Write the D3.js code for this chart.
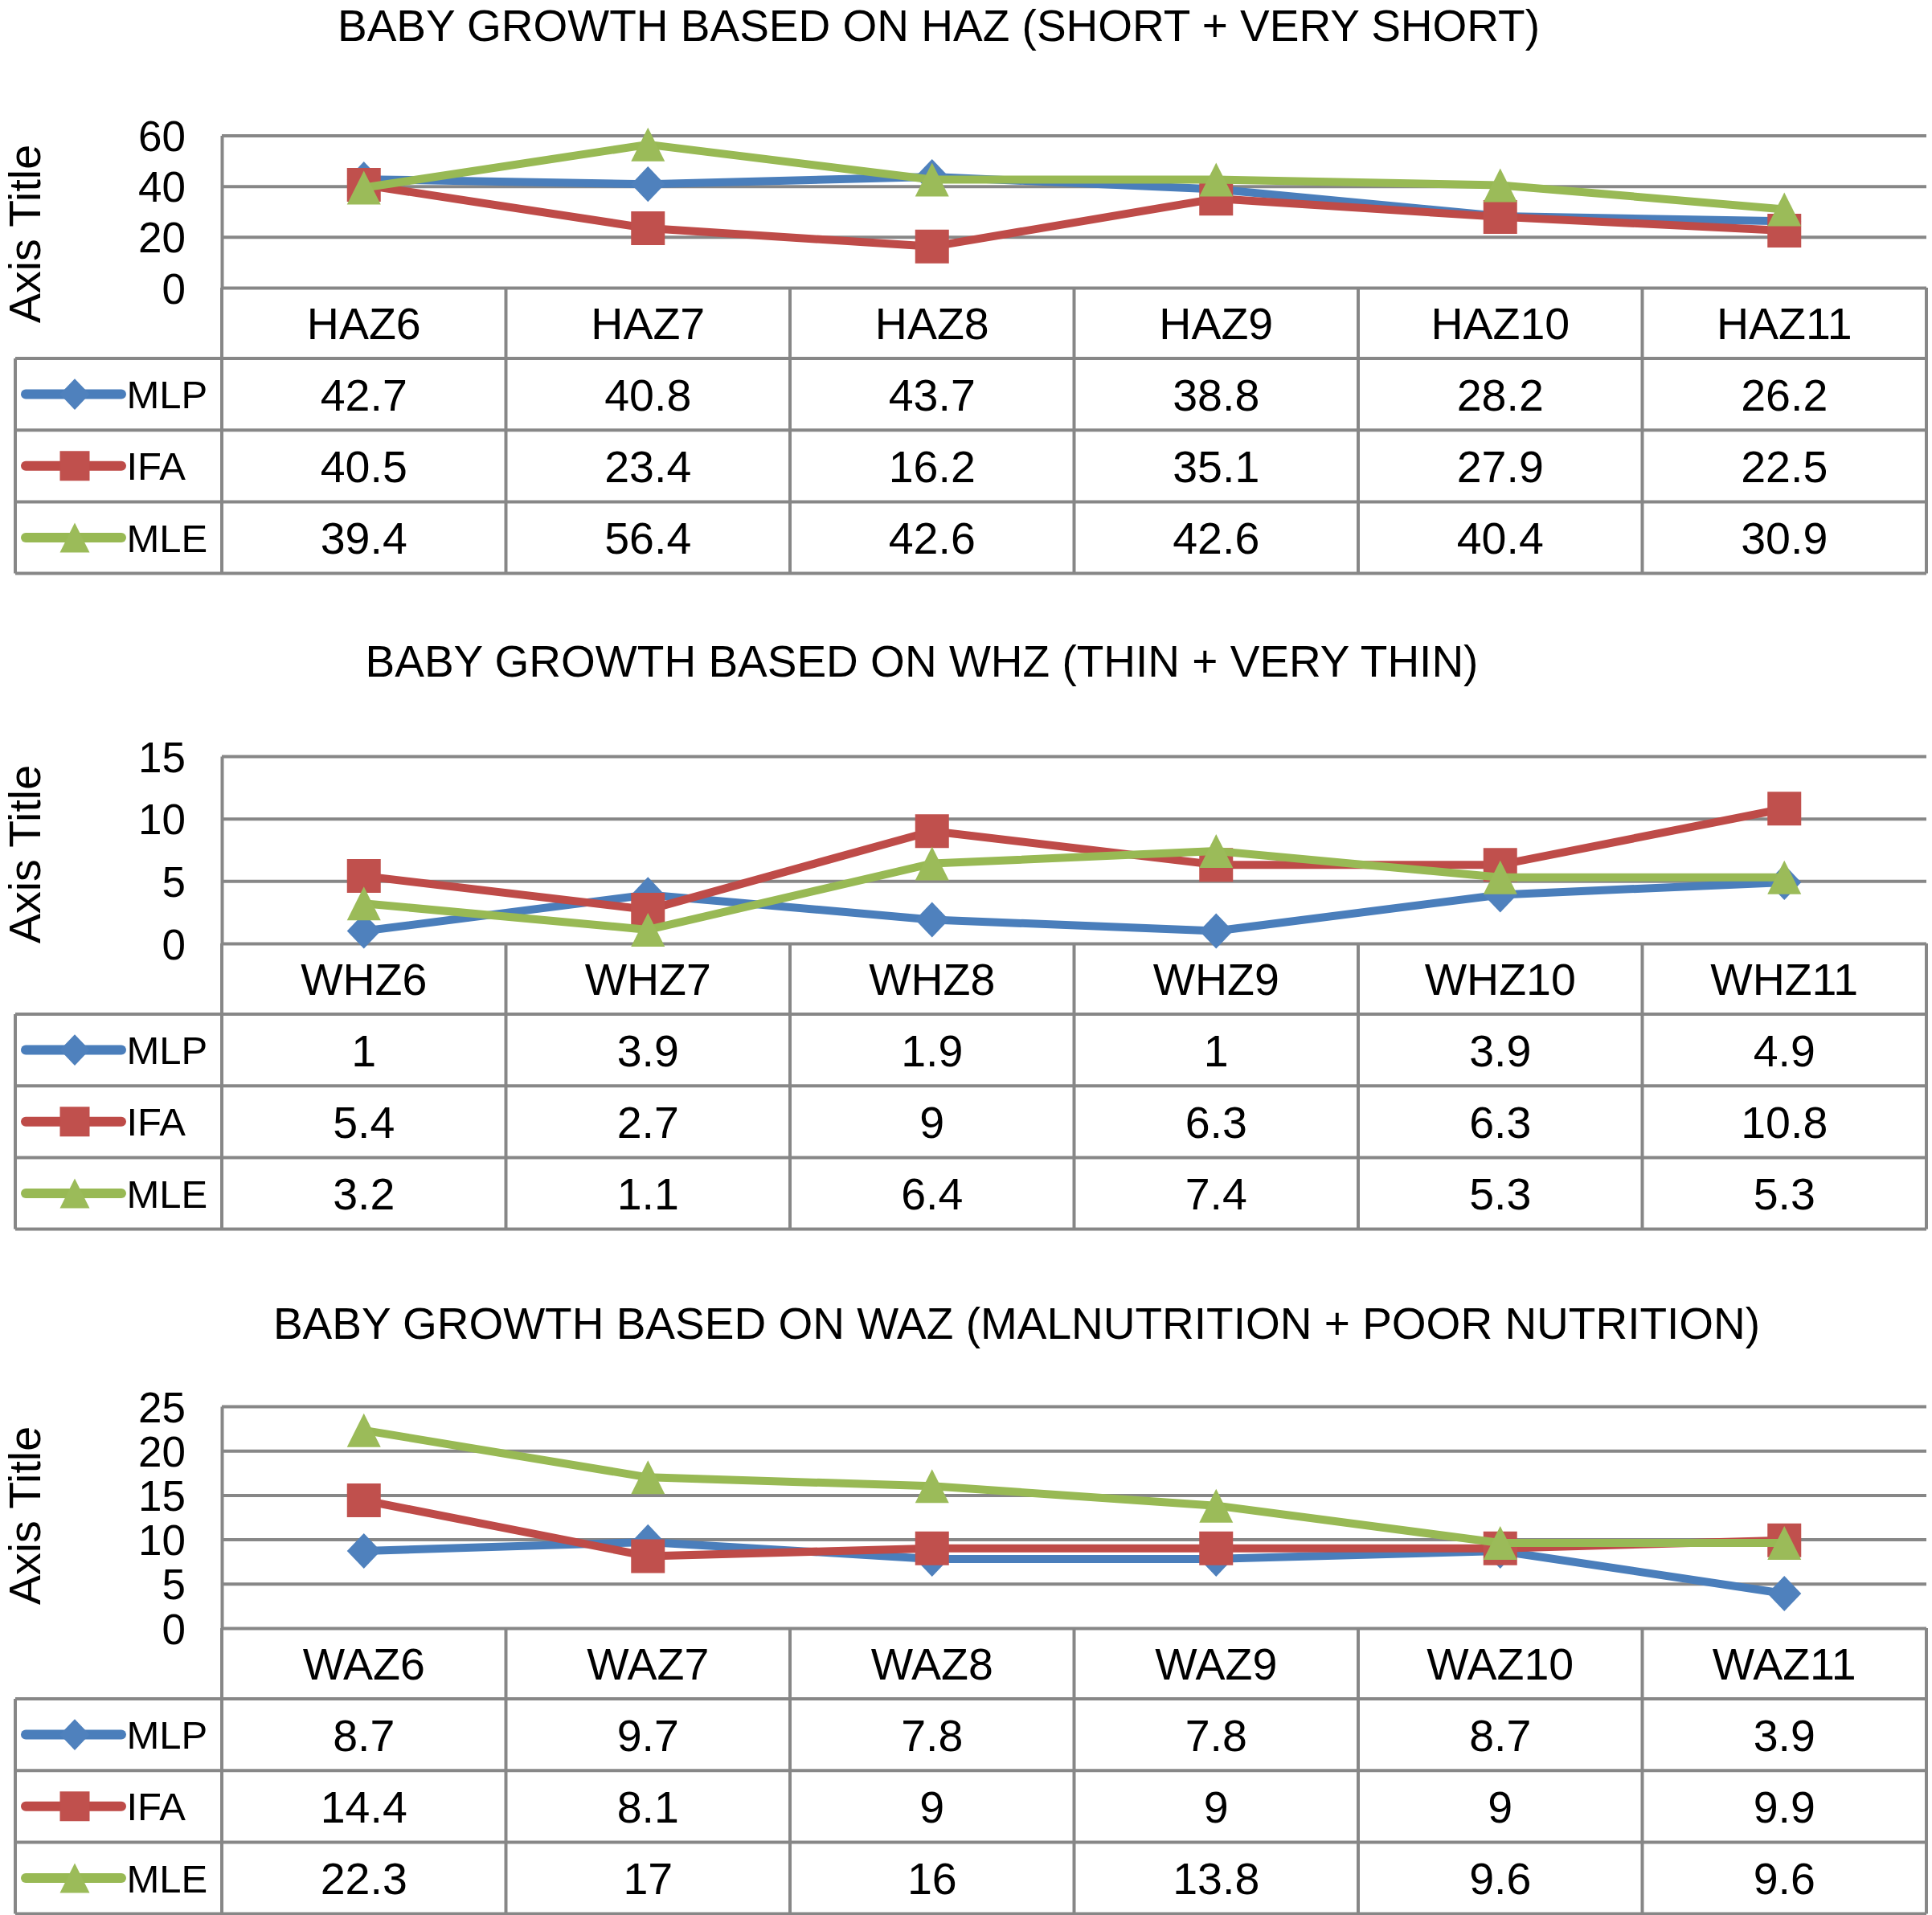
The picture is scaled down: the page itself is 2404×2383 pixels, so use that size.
<!DOCTYPE html>
<html><head><meta charset="utf-8">
<script src="https://cdn.jsdelivr.net/npm/d3@7"></script>
<style>html,body{margin:0;padding:0;background:#fff}</style>
</head><body><svg id="c" width="2404" height="2383"></svg>
<script>
// ---------- DATA ----------
const seriesNames = ["MLP", "IFA", "MLE"];

const hazTitle = "BABY GROWTH BASED ON HAZ (SHORT + VERY SHORT)";
const hazCategories = ["HAZ6", "HAZ7", "HAZ8", "HAZ9", "HAZ10", "HAZ11"];
const hazMLP = [42.7, 40.8, 43.7, 38.8, 28.2, 26.2];
const hazIFA = [40.5, 23.4, 16.2, 35.1, 27.9, 22.5];
const hazMLE = [39.4, 56.4, 42.6, 42.6, 40.4, 30.9];
const hazTicks = [0, 20, 40, 60];

const whzTitle = "BABY GROWTH BASED ON WHZ (THIN + VERY THIN)";
const whzCategories = ["WHZ6", "WHZ7", "WHZ8", "WHZ9", "WHZ10", "WHZ11"];
const whzMLP = [1, 3.9, 1.9, 1, 3.9, 4.9];
const whzIFA = [5.4, 2.7, 9, 6.3, 6.3, 10.8];
const whzMLE = [3.2, 1.1, 6.4, 7.4, 5.3, 5.3];
const whzTicks = [0, 5, 10, 15];

const wazTitle = "BABY GROWTH BASED ON WAZ (MALNUTRITION + POOR NUTRITION)";
const wazCategories = ["WAZ6", "WAZ7", "WAZ8", "WAZ9", "WAZ10", "WAZ11"];
const wazMLP = [8.7, 9.7, 7.8, 7.8, 8.7, 3.9];
const wazIFA = [14.4, 8.1, 9, 9, 9, 9.9];
const wazMLE = [22.3, 17, 16, 13.8, 9.6, 9.6];
const wazTicks = [0, 5, 10, 15, 20, 25];

const axisTitleText = "Axis Title";

// ---------- STYLE ----------
const FONT = "'Liberation Sans', Arial, Helvetica, sans-serif";
const FS = 55.5;       // table text
const FS_TICK = 53;    // y tick labels
const FS_LEG = 49;     // legend keys
const FS_TITLE = 55;
const GRID = "#878787";
const lineColors = ["#4A7EBB", "#BE4B48", "#98B954"];
const markerColors = ["#4F81BD", "#C0504D", "#9BBB59"];

const diamondType = { draw(ctx, size) { const r = Math.sqrt(size) / 2; ctx.moveTo(0, -r * 1.05); ctx.lineTo(r, 0); ctx.lineTo(0, r * 1.05); ctx.lineTo(-r, 0); ctx.closePath(); } };
const triangleType = { draw(ctx, size) { const r = Math.sqrt(size) / 2; ctx.moveTo(0, -r); ctx.lineTo(r, r); ctx.lineTo(-r, r); ctx.closePath(); } };
const markerTypes = [diamondType, d3.symbolSquare, triangleType];

const svg = d3.select("#c");
svg.append("rect").attr("width", 2404).attr("height", 2383).attr("fill", "#fff");

const tableLeft = 19, plotLeft = 276, plotRight = 2397;

const panels = [
  { title: hazTitle, titleX: 1168, titleY: 51, cats: hazCategories, series: [hazMLP, hazIFA, hazMLE], ticks: hazTicks,
    top: 168.5, bottom: 358, axisCenter: 291 },
  { title: whzTitle, titleX: 1147, titleY: 842, cats: whzCategories, series: [whzMLP, whzIFA, whzMLE], ticks: whzTicks,
    top: 941, bottom: 1174, axisCenter: 1063 },
  { title: wazTitle, titleX: 1265, titleY: 1666, cats: wazCategories, series: [wazMLP, wazIFA, wazMLE], ticks: wazTicks,
    top: 1750, bottom: 2026, axisCenter: 1886 }
];

panels.forEach(p => {
  const g = svg.append("g");
  const x = d3.scaleBand().domain(p.cats).range([plotLeft, plotRight]);
  const y = d3.scaleLinear().domain([0, d3.max(p.ticks)]).range([p.bottom, p.top]);
  const cx = c => x(c) + x.bandwidth() / 2;

  // title
  g.append("text").attr("x", p.titleX).attr("y", p.titleY).attr("text-anchor", "middle")
    .attr("font-family", FONT).attr("font-size", FS_TITLE).attr("fill", "#000").text(p.title);

  // axis title
  g.append("text").attr("transform", `translate(50,${p.axisCenter}) rotate(-90)`)
    .attr("text-anchor", "middle").attr("font-family", FONT).attr("font-size", FS).attr("fill", "#000")
    .text(axisTitleText);

  // y axis with gridlines
  const ax = g.append("g").attr("transform", `translate(${plotLeft},0)`)
    .call(d3.axisLeft(y).tickValues(p.ticks).tickSize(-(plotRight - plotLeft)).tickSizeOuter(0).tickPadding(45).tickFormat(d3.format("d")));
  ax.selectAll(".tick line").attr("stroke", GRID).attr("stroke-width", 4);
  ax.select(".domain").attr("stroke", GRID).attr("stroke-width", 4);
  ax.selectAll(".tick text").attr("font-family", FONT).attr("font-size", FS_TICK).attr("fill", "#000").attr("dy", "0.36em");

  // table geometry
  const headerH = 88, rowH = 89.2;
  const headerBottom = p.bottom + headerH;
  const rowY = i => headerBottom + i * rowH;
  const tableBottom = rowY(3);

  const tg = g.append("g").attr("stroke", GRID).attr("stroke-width", 4).attr("fill", "none");
  [0, 1, 2, 3].forEach(i => tg.append("line").attr("x1", tableLeft).attr("x2", plotRight).attr("y1", rowY(i)).attr("y2", rowY(i)));
  tg.append("line").attr("x1", tableLeft).attr("x2", tableLeft).attr("y1", headerBottom).attr("y2", tableBottom);
  p.cats.forEach(c => tg.append("line").attr("x1", x(c)).attr("x2", x(c)).attr("y1", p.bottom).attr("y2", tableBottom));
  tg.append("line").attr("x1", plotRight).attr("x2", plotRight).attr("y1", p.bottom).attr("y2", tableBottom);

  // header labels
  g.selectAll(".hdr").data(p.cats).enter().append("text")
    .attr("x", cx).attr("y", p.bottom + headerH / 2).attr("dy", "0.36em").attr("text-anchor", "middle")
    .attr("font-family", FONT).attr("font-size", FS).attr("fill", "#000").text(d => d);

  // value rows + legend keys
  p.series.forEach((vals, si) => {
    const yc = rowY(si) + rowH / 2;
    g.selectAll(null).data(vals).enter().append("text")
      .attr("x", (d, i) => cx(p.cats[i])).attr("y", yc).attr("dy", "0.36em").attr("text-anchor", "middle")
      .attr("font-family", FONT).attr("font-size", FS).attr("fill", "#000").text(d => d);
    g.append("line").attr("x1", 32).attr("x2", 151).attr("y1", yc).attr("y2", yc)
      .attr("stroke", lineColors[si]).attr("stroke-width", 12).attr("stroke-linecap", "round");
    g.append("path").attr("transform", `translate(93,${yc})`)
      .attr("d", d3.symbol().type(markerTypes[si]).size(37 * 37)())
      .attr("fill", markerColors[si]);
    g.append("text").attr("x", 157.5).attr("y", yc).attr("dy", "0.36em")
      .attr("font-family", FONT).attr("font-size", FS_LEG).attr("fill", "#000").text(seriesNames[si]);
  });

  // series lines + markers
  p.series.forEach((vals, si) => {
    const line = d3.line().x((d, i) => cx(p.cats[i])).y(d => y(d));
    g.append("path").datum(vals).attr("d", line).attr("fill", "none")
      .attr("stroke", lineColors[si]).attr("stroke-width", 10).attr("stroke-linejoin", "round");
    g.selectAll(null).data(vals).enter().append("path")
      .attr("transform", (d, i) => `translate(${cx(p.cats[i])},${y(d)})`)
      .attr("d", d3.symbol().type(markerTypes[si]).size(42 * 42)())
      .attr("fill", markerColors[si]);
  });
});
</script></body></html>
